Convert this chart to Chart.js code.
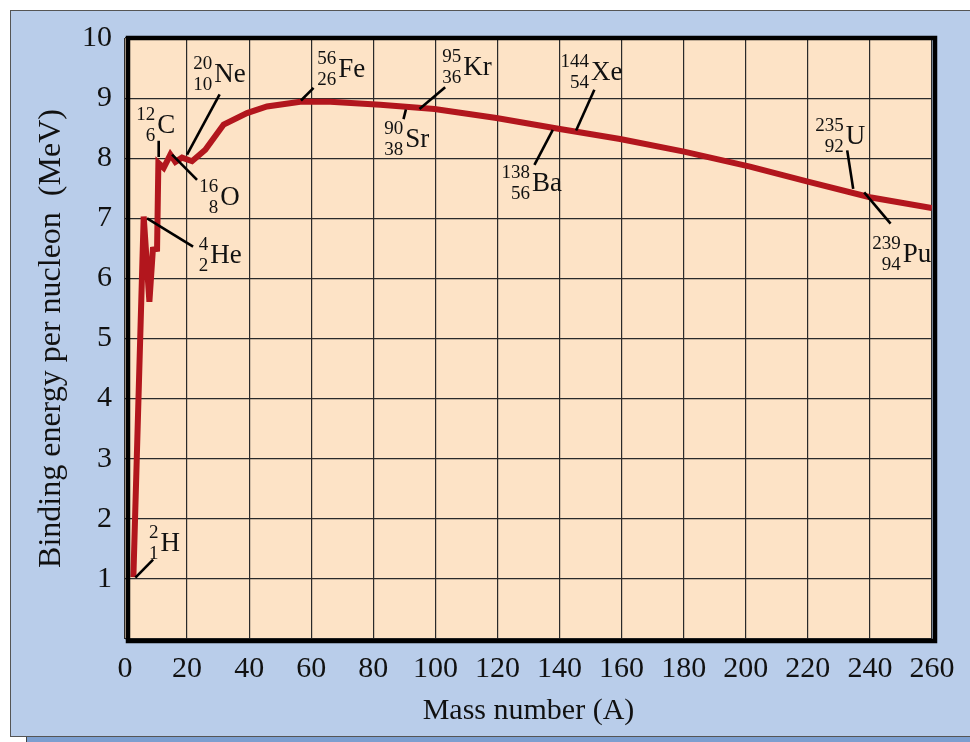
<!DOCTYPE html>
<html><head><meta charset="utf-8">
<script src="https://cdn.jsdelivr.net/npm/chart.js@4.4.1/dist/chart.umd.min.js"></script>
<style>
html,body{margin:0;padding:0;background:#fff;width:970px;height:742px;overflow:hidden;}
#strip{position:absolute;left:26px;top:737px;width:950px;height:6px;background:#7c9fd0;border-left:1px solid #444;}
#panel{position:absolute;left:10px;top:10px;width:966px;height:727px;background:#b9cdea;border:1px solid #555;box-sizing:border-box;}
canvas{position:absolute;left:0;top:0;}
</style></head>
<body>
<div id="strip"></div>
<div id="panel"></div>
<canvas id="c" width="970" height="742"></canvas>
<script>
// ---- data ----
const massNumber = [2.70, 6.02, 7.86, 8.98, 10.33, 10.75, 12.46, 14.62, 16.23, 18.38, 21.60, 25.88, 31.78, 39.31, 45.75, 56.47, 66.13, 82.22, 99.71, 119.67, 139.63, 159.50, 180.1, 201.35, 220.0, 239.98, 259.95];
const bindingEnergy = [1.03, 7.03, 5.61, 6.48, 6.49, 7.92, 7.84, 8.06, 7.94, 8.01, 7.95, 8.14, 8.56, 8.75, 8.86, 8.94, 8.94, 8.89, 8.82, 8.67, 8.49, 8.32, 8.11, 7.86, 7.61, 7.35, 7.17];
const xTicks = [0,20,40,60,80,100,120,140,160,180,200,220,240,260];
const yTicks = [1,2,3,4,5,6,7,8,9,10];
const nuclideSymbols = ['H','He','C','O','Ne','Fe','Sr','Kr','Ba','Xe','U','Pu'];
const nuclideMass    = ['2','4','12','16','20','56','90','95','138','144','235','239'];
const nuclideZ       = ['1','2','6','8','10','26','38','36','56','54','92','94'];

// ---- annotation layout (data units) ----
const leaderLines = [
  [3.35,1.02, 9.05,1.32],
  [7.12,7.00, 21.93,6.53],
  [10.85,8.29, 10.85,8.02],
  [15.16,8.06, 23.21,7.64],
  [30.49,9.06, 19.99,8.06],
  [56.70,8.96, 60.75,9.17],
  [90.50,8.81, 89.73,8.65],
  [94.88,8.82, 103.15,9.18],
  [137.83,8.47, 131.91,7.89],
  [145.33,8.46, 151.22,9.14],
  [232.68,8.13, 234.61,7.49],
  [238.15,7.43, 246.65,6.91]
];
const labelAnchors = [
  [11.40,1.47],[27.49,6.26],[10.43,8.42],[30.71,7.22],[28.78,9.27],[68.71,9.35],
  [90.28,8.19],[108.95,9.39],[131.16,7.45],[150.16,9.30],[232.24,8.24],[250.61,6.28]
];

const SERIF = "'Liberation Serif', 'Times New Roman', serif";

const backgroundPlugin = {
  id: 'bg',
  beforeDraw(chart) {
    const {ctx, chartArea: a} = chart;
    ctx.save();
    ctx.fillStyle = '#fde3c6';
    ctx.fillRect(a.left, a.top, a.right - a.left, a.bottom - a.top);
    ctx.restore();
  }
};

const annotationPlugin = {
  id: 'nuclides',
  afterDatasetsDraw(chart) {
    const {ctx, chartArea: a, scales: {x, y}} = chart;
    ctx.save();
    // frame
    ctx.strokeStyle = '#000';
    ctx.lineWidth = 4.5;
    ctx.strokeRect(a.left + 3, a.top, a.right - a.left, a.bottom - a.top + 2);
    // leader lines
    ctx.lineWidth = 2.6;
    ctx.lineCap = 'butt';
    leaderLines.forEach(l => {
      ctx.beginPath();
      ctx.moveTo(x.getPixelForValue(l[0]), y.getPixelForValue(l[1]));
      ctx.lineTo(x.getPixelForValue(l[2]), y.getPixelForValue(l[3]));
      ctx.stroke();
    });
    // labels
    ctx.fillStyle = '#111';
    ctx.textBaseline = 'alphabetic';
    nuclideSymbols.forEach((s, i) => {
      const px = x.getPixelForValue(labelAnchors[i][0]);
      const py = y.getPixelForValue(labelAnchors[i][1]);
      ctx.font = '27px ' + SERIF;
      ctx.textAlign = 'left';
      ctx.fillText(s, px, py);
      ctx.font = '19px ' + SERIF;
      ctx.textAlign = 'right';
      ctx.fillText(nuclideMass[i], px - 2, py - 13);
      ctx.fillText(nuclideZ[i], px - 2, py + 8);
    });
    ctx.restore();
  }
};

new Chart(document.getElementById('c'), {
  type: 'line',
  data: {
    datasets: [{
      data: massNumber.map((a, i) => ({x: a, y: bindingEnergy[i]})),
      borderColor: '#b2161d',
      borderWidth: 6,
      pointRadius: 0,
      tension: 0,
      fill: false
    }]
  },
  options: {
    responsive: false,
    animation: false,
    devicePixelRatio: 1,
    layout: {padding: {left: 0, top: 38, right: 38, bottom: 0}},
    plugins: {legend: {display: false}, tooltip: {enabled: false}},
    scales: {
      x: {
        type: 'linear', min: 0, max: 260,
        afterFit(s) { s.height = 103; },
        afterBuildTicks(s) { s.ticks = xTicks.map(v => ({value: v})); },
        grid: {color: '#2a2a2a', lineWidth: 1.2, drawTicks: false},
        border: {display: false},
        ticks: {color: '#111', font: {family: SERIF, size: 30}, padding: 12, maxRotation: 0, autoSkip: false},
        title: {display: true, text: 'Mass number (A)', color: '#111', font: {family: SERIF, size: 30}, padding: {top: 0, bottom: 13}}
      },
      y: {
        type: 'linear', min: 0, max: 10,
        afterFit(s) { s.width = 125; },
        afterBuildTicks(s) { s.ticks = [0].concat(yTicks).map(v => ({value: v})); },
        grid: {color: '#2a2a2a', lineWidth: 1.2, drawTicks: false},
        border: {display: false},
        ticks: {color: '#111', font: {family: SERIF, size: 30}, padding: 13,
          callback: v => yTicks.includes(v) ? String(v) : ''},
        title: {display: true, text: 'Binding energy per nucleon  (MeV)', color: '#111', font: {family: SERIF, size: 32}, padding: {top: 32, bottom: 0}}
      }
    }
  },
  plugins: [backgroundPlugin, annotationPlugin]
});
</script>
</body></html>
